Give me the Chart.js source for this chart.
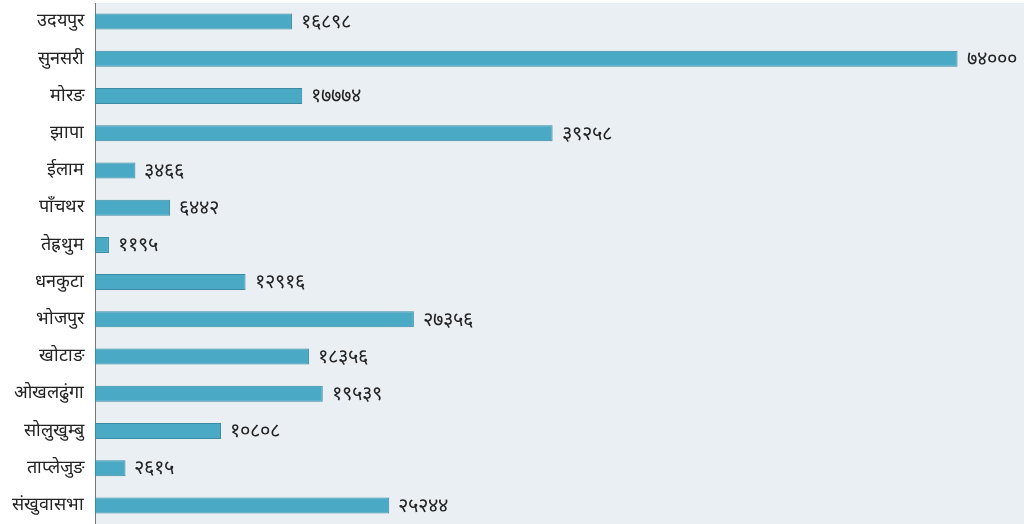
<!DOCTYPE html>
<html>
<head>
<meta charset="utf-8">
<script src="https://cdn.jsdelivr.net/npm/chart.js@4/dist/chart.umd.min.js"></script>
<style>
  html, body { margin: 0; padding: 0; background: #fff; }
  #wrap { width: 1024px; height: 524px; }
</style>
</head>
<body>
<div id="wrap"><canvas id="districtChart"></canvas></div>
<script>
const districts = ['उदयपुर', 'सुनसरी', 'मोरङ', 'झापा', 'ईलाम', 'पाँचथर', 'तेह्रथुम', 'धनकुटा', 'भोजपुर', 'खोटाङ', 'ओखलढुंगा', 'सोलुखुम्बु', 'ताप्लेजुङ', 'संखुवासभा'];
const counts = [16898, 74000, 17774, 39258, 3466, 6442, 1195, 12916, 27356, 18356, 19539, 10808, 2615, 25244];

// Devanagari digits for the value labels
const toNepali = n => String(n).replace(/[0-9]/g, d => '०१२३४५६७८९'[d]);

// ---- Plot background ----
const bgPlugin = {
  id: 'plotBg',
  beforeDraw(chart) {
    const { ctx, chartArea: a } = chart;
    ctx.save();
    ctx.fillStyle = '#e9eff3';
    ctx.fillRect(a.left, a.top, a.right - a.left, a.bottom - a.top);
    ctx.restore();
  }
};

// ---- Value labels at bar ends ----
const valuePlugin = {
  id: 'valueLabels',
  afterDatasetsDraw(chart) {
    const { ctx } = chart;
    const meta = chart.getDatasetMeta(0);
    ctx.save();
    ctx.font = '20px serif';
    ctx.fillStyle = '#222';
    ctx.textBaseline = 'middle';
    meta.data.forEach((bar, i) => {
      ctx.fillText(toNepali(counts[i]), bar.x + 9, bar.y + 1);
    });
    ctx.restore();
  }
};

new Chart(document.getElementById('districtChart').getContext('2d'), {
  type: 'bar',
  data: {
    labels: districts,
    datasets: [{
      data: counts,
      backgroundColor: '#4aa9c5',
      borderColor: '#3b8aa3',
      borderWidth: 1,
      borderSkipped: false,
      barPercentage: 0.43,
      categoryPercentage: 1
    }]
  },
  options: {
    indexAxis: 'y',
    responsive: true,
    maintainAspectRatio: false,
    animation: false,
    layout: { padding: { top: 3, left: 0, right: 0, bottom: 0 } },
    plugins: {
      legend: { display: false },
      tooltip: { enabled: false }
    },
    scales: {
      x: {
        min: 0,
        max: 79700,
        display: false,
        grid: { display: false }
      },
      y: {
        afterFit(scale) {
          scale.paddingTop = 0;
          scale.paddingBottom = 0;
        },
        grid: { display: false, drawTicks: false },
        border: { display: true, color: '#777', width: 1 },
        ticks: {
          color: '#222',
          padding: 11.5,
          font: { size: 18, family: 'serif' }
        }
      }
    }
  },
  plugins: [bgPlugin, valuePlugin]
});
</script>
</body>
</html>
